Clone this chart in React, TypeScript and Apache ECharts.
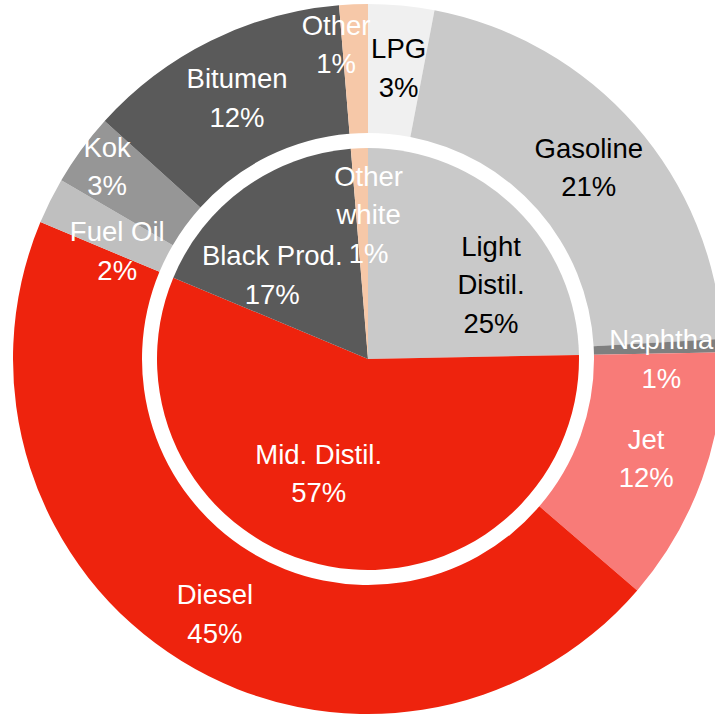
import React, { useEffect, useRef } from "react";
import * as echarts from "echarts";

// Inner ring: product groups (share, %)
const innerNames = ["Light\nDistil.", "Mid. Distil.", "Black Prod.", "Other\nwhite"];
const innerValues = [24.7, 56.6, 17.4, 1.3];
const innerColors = ["#C9C9C9", "#EE230D", "#5A5A5A", "#F6C8A8"];
const innerTextColors = ["#000000", "#FFFFFF", "#FFFFFF", "#FFFFFF"];

// Outer ring: products (share, %)
const outerNames = ["LPG", "Gasoline", "Naphtha", "Jet", "Diesel", "Fuel Oil", "Kok", "Bitumen", "Other"];
const outerValues = [3.0, 21.1, 0.6, 11.6, 45.0, 2.1, 3.3, 12.0, 1.3];
const outerColors = ["#F0F0F0", "#C9C9C9", "#7F7F7F", "#F87B78", "#EE230D", "#BFBFBF", "#969696", "#5A5A5A", "#F6C8A8"];
const outerTextColors = ["#000000", "#000000", "#FFFFFF", "#FFFFFF", "#FFFFFF", "#FFFFFF", "#FFFFFF", "#FFFFFF", "#FFFFFF"];

// label nudges (px) from ECharts' default inside position
const innerNudge: [number, number][] = [[47, 3], [-29, 8], [-32, 4], [5, -36]];
const outerNudge: [number, number][] = [[3, 1], [0, 2], [0, 11], [2, 0], [1, 5], [12, 23], [-24, -19], [-1, 2], [-20, -21]];

const FONT = "'Liberation Sans', Arial, sans-serif";

export default function App() {
  const ref = useRef<HTMLDivElement>(null);
  useEffect(() => {
    if (!ref.current) return;
    const chart = echarts.init(ref.current, undefined, { renderer: "svg" });
    const mk = (names: string[], vals: number[], cols: string[], tcols: string[]) =>
      names.map((n, i) => ({
        name: n,
        value: vals[i],
        itemStyle: { color: cols[i] },
        label: { color: tcols[i] },
      }));
    const labelBase = {
      show: true,
      position: "inside",
      formatter: (p: any) => `${p.name}\n${Math.round(p.value)}%`,
      fontFamily: FONT,
      fontSize: 27.5,
      lineHeight: 38.5,
      align: "center",
      textBorderWidth: 0,
      textShadowBlur: 0,
    };
    chart.setOption({
      animation: false,
      backgroundColor: "#FFFFFF",
      series: [
        {
          type: "pie",
          center: [368, 359],
          radius: [0, 211],
          startAngle: 90,
          clockwise: true,
          silent: true,
          avoidLabelOverlap: false,
          label: labelBase,
          labelLine: { show: false },
          labelLayout: (p: any) => ({ dx: innerNudge[p.dataIndex][0], dy: innerNudge[p.dataIndex][1] }),
          itemStyle: { borderWidth: 0 },
          data: mk(innerNames, innerValues, innerColors, innerTextColors),
        },
        {
          type: "pie",
          center: [368, 359],
          radius: [226, 355],
          startAngle: 90,
          clockwise: true,
          silent: true,
          avoidLabelOverlap: false,
          label: labelBase,
          labelLine: { show: false },
          labelLayout: (p: any) => ({ dx: outerNudge[p.dataIndex][0], dy: outerNudge[p.dataIndex][1] }),
          itemStyle: { borderWidth: 0 },
          data: mk(outerNames, outerValues, outerColors, outerTextColors),
        },
      ],
    });
    return () => chart.dispose();
  }, []);
  return (
    <div
      ref={ref}
      style={{ position: "fixed", left: 0, top: 0, width: 715, height: 716, background: "#fff" }}
    />
  );
}
